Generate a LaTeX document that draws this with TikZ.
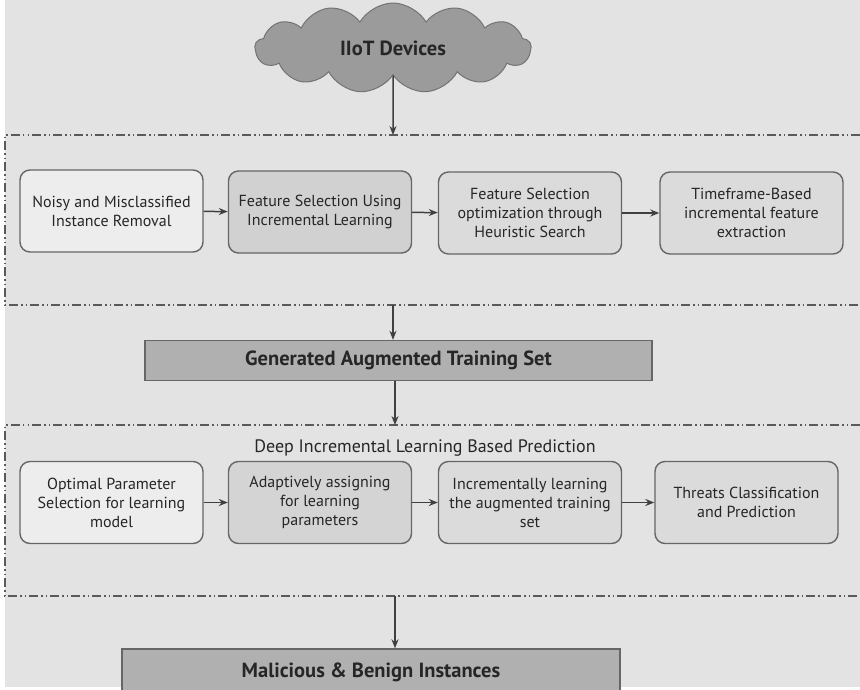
\documentclass[tikz,border=0pt]{standalone}
\usepackage{fontspec}
\setmainfont{PT Sans}
\usetikzlibrary{positioning,shapes.symbols,arrows.meta}
\tikzset{>={Stealth[length=9pt,width=7pt]}}
\definecolor{bgc}{HTML}{E3E3E3}
\definecolor{edgec}{HTML}{666666}
\definecolor{sepc}{HTML}{5A5A5A}
\definecolor{barc}{HTML}{B0B0B0}
\definecolor{cloudc}{HTML}{9B9B9B}
\tikzset{
  stage/.style={draw=edgec,line width=1.4pt,rounded corners=10pt,
    minimum width=183pt,minimum height=82pt,align=center,
    font=\fontsize{16}{19}\selectfont,text=black!85},
  bar/.style={draw=edgec,line width=1.4pt,fill=barc,minimum height=40pt,
    font=\fontsize{20.5}{24}\selectfont\bfseries,text=black!85},
  sep/.style={draw=sepc,line width=1.2pt,
    dash pattern=on 9pt off 3pt on 1.5pt off 3pt on 1.5pt off 3pt},
  flow/.style={->,draw=black!75,line width=1.5pt}
}

\begin{document}
\begin{tikzpicture}[x=1pt,y=-1pt]
\useasboundingbox (0,0) rectangle (860,689);
\fill[bgc] (5,0) rectangle (860,687);

% source
\node[cloud,cloud puffs=13,cloud puff arc=120,aspect=2.6,draw=black!55,
  line width=1pt,fill=cloudc,minimum width=276pt,minimum height=90pt,
  font=\fontsize{20.5}{24}\selectfont\bfseries,text=black!85] (cloud) at (393,48) {IIoT Devices};

% first stage
\draw[sep] (860,135) -- (5,135) -- (5,305) -- (860,305);
\coordinate (t1) at (393,135);
\coordinate (b1) at (393,305);
\node[stage,fill=black!7] (n1) at (111.5,211) {Noisy and Misclassified\\Instance Removal};
\node[stage,fill=black!18] (n2) at (320,212) {Feature Selection Using\\Incremental Learning};
\node[stage,fill=black!14] (n3) at (530,213) {Feature Selection\\optimization through\\Heuristic Search};
\node[stage,fill=black!14] (n4) at (751.5,213) {Timeframe-Based\\incremental feature\\extraction};
\draw[flow] (cloud.south) -- (t1);
\draw[flow] (n1) -- (n2);
\draw[flow] (n2) -- (n3);
\draw[flow] (n3) -- (n4);

\node[bar,minimum width=507pt] (G) at (398.5,360.5) {Generated Augmented Training Set};
\draw[flow] (b1) -- (b1 |- G.north);

% second stage
\draw[sep] (860,425) -- (5,425) -- (5,596) -- (860,596);
\coordinate (t2) at (395,425);
\coordinate (b2) at (395,596);
\draw[flow] (t2 |- G.south) -- (t2);
\node[font=\fontsize{18}{21}\selectfont,text=black!85] (title) at (425,448) {Deep Incremental Learning Based Prediction};
\node[stage,fill=black!7] (m1) at (111.5,502.5) {Optimal Parameter\\Selection for learning\\model};
\node[stage,fill=black!17] (m2) at (320,502.5) {Adaptively assigning\\for learning\\parameters};
\node[stage,fill=black!14] (m3) at (530,502.5) {Incrementally learning\\the augmented training\\set};
\node[stage,fill=black!14] (m4) at (746.5,502.5) {Threats Classification\\and Prediction};
\draw[flow] (m1) -- (m2);
\draw[flow] (m2) -- (m3);
\draw[flow] (m3) -- (m4);

\node[bar,minimum width=498pt,minimum height=46pt] (M) at (371,672) {Malicious \& Benign Instances};
\draw[flow] (b2) -- (b2 |- M.north);
\end{tikzpicture}
\end{document}
